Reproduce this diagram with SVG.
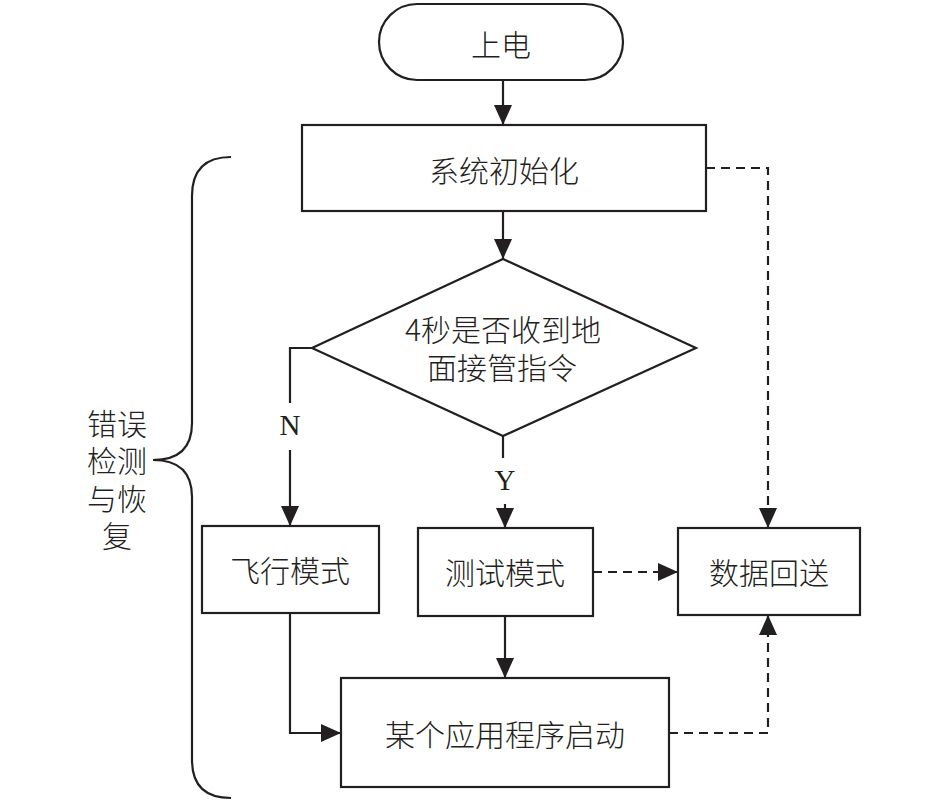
<svg xmlns="http://www.w3.org/2000/svg" width="946" height="800" viewBox="0 0 946 800">
<style>
.box{fill:#fff;stroke:#231f20;stroke-width:2.2}
.t{font-family:"Noto Sans CJK SC","Noto Sans CJK JP",sans-serif;font-size:30px;font-weight:300;fill:#231f20;text-anchor:middle;dominant-baseline:central}
.lat{font-family:"Liberation Serif",serif;font-size:29px;fill:#231f20;text-anchor:middle;dominant-baseline:central}
.c{fill:none;stroke:#231f20;stroke-width:2.2}
.d{fill:none;stroke:#231f20;stroke-width:2.2;stroke-dasharray:9 6}
</style>
<defs>
<marker id="ah" markerUnits="userSpaceOnUse" markerWidth="20" markerHeight="18" viewBox="0 0 20 18" refX="20" refY="9" orient="auto">
<path d="M0,0 L20,9 L0,18 Z" fill="#231f20"/>
</marker>
</defs>
<g id="start"><rect class="box" x="379" y="4" width="244" height="76" rx="38" ry="38"/><text class="t" x="501" y="43">上电</text></g>
<g id="init"><rect class="box" x="302" y="125" width="404" height="86"/><text class="t" x="504" y="169">系统初始化</text></g>
<g id="decision"><polygon class="box" points="503,259 696,348 503,436 312,348"/><text class="t" x="503" y="328">4秒是否收到地</text><text class="t" x="502" y="366">面接管指令</text></g>
<g id="flight"><rect class="box" x="202" y="526" width="177" height="87"/><text class="t" x="290" y="569">飞行模式</text></g>
<g id="test"><rect class="box" x="418" y="528" width="175" height="88"/><text class="t" x="505" y="571">测试模式</text></g>
<g id="data"><rect class="box" x="678" y="528" width="182" height="87"/><text class="t" x="769" y="571">数据回送</text></g>
<g id="app"><rect class="box" x="341" y="678" width="328" height="109"/><text class="t" x="505" y="733">某个应用程序启动</text></g>
<g id="brace"><path class="c" d="M231,157 Q192,157 192,196 L192,423 Q192,460 153,460 Q192,460 192,497 L192,760 Q192,798 231,798"/>
<text class="t"><tspan x="117" y="422">错误</tspan><tspan x="117" y="459">检测</tspan><tspan x="117" y="497">与恢</tspan><tspan x="117" y="534">复</tspan></text></g>
<g id="connectors">
<path class="c" d="M503,80 L503,125" marker-end="url(#ah)"/>
<path class="c" d="M503,211 L503,259" marker-end="url(#ah)"/>
<path class="c" d="M312,348 L290,348 L290,403"/>
<path class="c" d="M290,450 L290,526" marker-end="url(#ah)"/>
<path class="c" d="M503,436 L503,458"/>
<path class="c" d="M505,504 L505,528" marker-end="url(#ah)"/>
<path class="c" d="M505,616 L505,678" marker-end="url(#ah)"/>
<path class="c" d="M290,613 L290,733 L341,733" marker-end="url(#ah)"/>
<path class="d" d="M593,572 L678,572" marker-end="url(#ah)"/>
<path class="d" d="M706,168 L768,168 L768,528" marker-end="url(#ah)"/>
<path class="d" d="M669,733 L768,733 L768,615" marker-end="url(#ah)"/>
<text class="lat" x="290" y="425">N</text>
<text class="lat" x="505" y="480">Y</text>
</g>
</svg>
